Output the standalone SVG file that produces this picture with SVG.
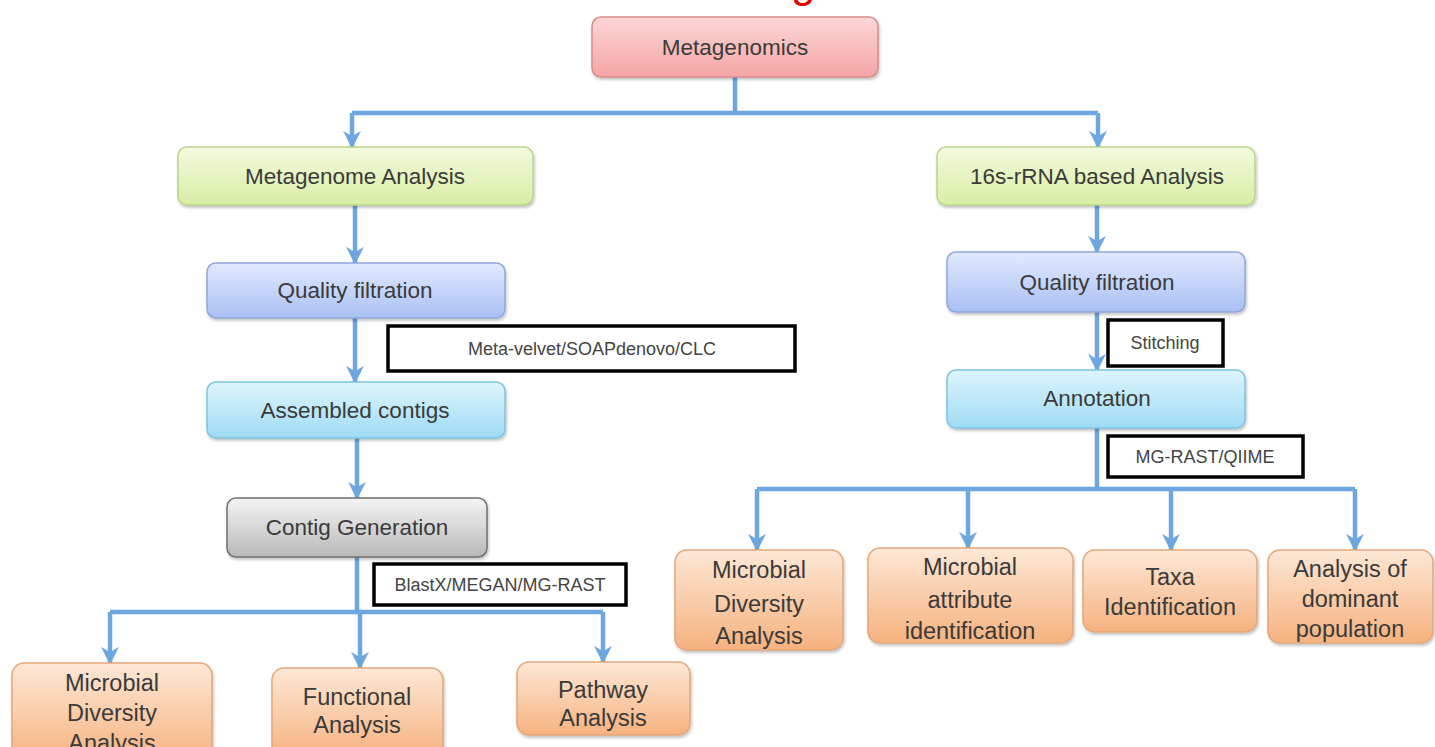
<svg xmlns="http://www.w3.org/2000/svg" width="1435" height="747" viewBox="0 0 1435 747">
<defs>
<linearGradient id="gPink" x1="0" y1="0" x2="0" y2="1"><stop offset="0" stop-color="#fcd6d6"/><stop offset="1" stop-color="#f5a5a5"/></linearGradient>
<linearGradient id="gGreen" x1="0" y1="0" x2="0" y2="1"><stop offset="0" stop-color="#f3fadf"/><stop offset="1" stop-color="#d9eea4"/></linearGradient>
<linearGradient id="gBlue" x1="0" y1="0" x2="0" y2="1"><stop offset="0" stop-color="#e2eaff"/><stop offset="1" stop-color="#a9c0f4"/></linearGradient>
<linearGradient id="gCyan" x1="0" y1="0" x2="0" y2="1"><stop offset="0" stop-color="#def5fd"/><stop offset="1" stop-color="#9edbf4"/></linearGradient>
<linearGradient id="gGray" x1="0" y1="0" x2="0" y2="1"><stop offset="0" stop-color="#f4f4f4"/><stop offset="1" stop-color="#b9b9b9"/></linearGradient>
<linearGradient id="gOrange" x1="0" y1="0" x2="0" y2="1"><stop offset="0" stop-color="#fde8d6"/><stop offset="1" stop-color="#f6b27f"/></linearGradient>
<filter id="sh" x="-10%" y="-10%" width="120%" height="130%"><feDropShadow dx="1" dy="2" stdDeviation="1.5" flood-color="#000" flood-opacity="0.25"/></filter>
<marker id="arr" viewBox="0 0 10 10" refX="9" refY="5" markerWidth="4" markerHeight="4" orient="auto" markerUnits="strokeWidth">
<path d="M0,0 L10,5 L0,10 L3,5 Z" fill="#6ea6e0"/>
</marker>
<style>
.node rect{stroke-width:1.5;filter:url(#sh)}
.pink{fill:url(#gPink);stroke:#d98b8b}
.green{fill:url(#gGreen);stroke:#b9d58a}
.blue{fill:url(#gBlue);stroke:#8ea6d8}
.cyan{fill:url(#gCyan);stroke:#7cc3e0}
.gray{fill:url(#gGray);stroke:#6f6f6f}
.orange{fill:url(#gOrange);stroke:#e3a77a}
.t{font-family:"Liberation Sans",Arial,sans-serif;fill:#3a3a3a;text-anchor:middle}
.tm{font-size:22.5px}
.tb{font-size:23.5px}
.lbl rect{fill:#fff;stroke:#000;stroke-width:3.5}
.tl{font-family:"Liberation Sans",Arial,sans-serif;font-size:18px;fill:#444;text-anchor:middle}
.c{fill:none;stroke:#6ea6e0;stroke-width:4.5}
.ca{fill:none;stroke:#6ea6e0;stroke-width:4.5;marker-end:url(#arr)}
</style>
</defs>
<rect width="1435" height="747" fill="#fff"/>
<text x="791" y="-3" font-family="Liberation Sans,Arial,sans-serif" font-size="44" fill="#e00000">g</text>

<g id="connectors">
<path class="c" d="M735,77 V113" stroke="#8fadc9" stroke-width="6"/>
<path class="c" d="M352,113 H1098"/>
<path class="ca" d="M352,113 V147"/>
<path class="ca" d="M1098,113 V147"/>
<path class="ca" d="M355,205 V263"/>
<path class="ca" d="M355,318 V382"/>
<path class="ca" d="M357,438 V498"/>
<path class="c" d="M357,557 V612"/>
<path class="c" d="M110,612 H603"/>
<path class="ca" d="M110,612 V663"/>
<path class="ca" d="M360,612 V668"/>
<path class="ca" d="M603,612 V662"/>
<path class="ca" d="M1097,205 V252"/>
<path class="ca" d="M1097,312 V370"/>
<path class="c" d="M1097,428 V489"/>
<path class="c" d="M757,489 H1355"/>
<path class="ca" d="M757,489 V550"/>
<path class="ca" d="M968,489 V548"/>
<path class="ca" d="M1171,489 V550"/>
<path class="ca" d="M1355,489 V550"/>
</g>

<g id="metagenomics" class="node"><rect class="pink" x="592" y="17" width="286" height="60" rx="9"/><text class="t tm" x="735" y="55">Metagenomics</text></g>
<g id="metagenome-analysis" class="node"><rect class="green" x="178" y="147" width="355" height="58" rx="9"/><text class="t tm" x="355" y="184" fill="#3b4a2c">Metagenome Analysis</text></g>
<g id="quality-filtration-left" class="node"><rect class="blue" x="207" y="263" width="298" height="55" rx="9"/><text class="t tm" x="355" y="298">Quality filtration</text></g>
<g id="label-metavelvet" class="lbl"><rect x="388" y="326" width="407" height="45"/><text class="tl" x="592" y="355">Meta-velvet/SOAPdenovo/CLC</text></g>
<g id="assembled-contigs" class="node"><rect class="cyan" x="207" y="382" width="298" height="56" rx="9"/><text class="t tm" x="355" y="418">Assembled contigs</text></g>
<g id="contig-generation" class="node"><rect class="gray" x="227" y="498" width="260" height="59" rx="9"/><text class="t tm" x="357" y="535">Contig Generation</text></g>
<g id="label-blastx" class="lbl"><rect x="374" y="564" width="252" height="41"/><text class="tl" x="500" y="591">BlastX/MEGAN/MG-RAST</text></g>
<g id="microbial-diversity-left" class="node"><rect class="orange" x="12" y="663" width="200" height="100" rx="12"/><text class="t tb" x="112" y="691">Microbial</text><text class="t tb" x="112" y="721">Diversity</text><text class="t tb" x="112" y="751">Analysis</text></g>
<g id="functional-analysis" class="node"><rect class="orange" x="272" y="668" width="171" height="90" rx="12"/><text class="t tb" x="357" y="705">Functional</text><text class="t tb" x="357" y="733">Analysis</text></g>
<g id="pathway-analysis" class="node"><rect class="orange" x="517" y="662" width="173" height="73" rx="12"/><text class="t tb" x="603" y="698">Pathway</text><text class="t tb" x="603" y="726">Analysis</text></g>

<g id="rrna-analysis" class="node"><rect class="green" x="937" y="147" width="318" height="58" rx="9"/><text class="t tm" x="1097" y="184" fill="#3b4a2c">16s-rRNA based Analysis</text></g>
<g id="quality-filtration-right" class="node"><rect class="blue" x="947" y="252" width="298" height="60" rx="9"/><text class="t tm" x="1097" y="290">Quality filtration</text></g>
<g id="label-stitching" class="lbl"><rect x="1108" y="320" width="115" height="46"/><text class="tl" x="1165" y="349">Stitching</text></g>
<g id="annotation" class="node"><rect class="cyan" x="947" y="370" width="298" height="58" rx="9"/><text class="t tm" x="1097" y="406">Annotation</text></g>
<g id="label-mgrast" class="lbl"><rect x="1108" y="436" width="195" height="41"/><text class="tl" x="1205" y="463">MG-RAST/QIIME</text></g>
<g id="microbial-diversity-right" class="node"><rect class="orange" x="675" y="550" width="168" height="100" rx="12"/><text class="t tb" x="759" y="578">Microbial</text><text class="t tb" x="759" y="612">Diversity</text><text class="t tb" x="759" y="644">Analysis</text></g>
<g id="microbial-attribute" class="node"><rect class="orange" x="868" y="548" width="205" height="95" rx="12"/><text class="t tb" x="970" y="575">Microbial</text><text class="t tb" x="970" y="608">attribute</text><text class="t tb" x="970" y="639">identification</text></g>
<g id="taxa-identification" class="node"><rect class="orange" x="1083" y="550" width="174" height="82" rx="12"/><text class="t tb" x="1170" y="585">Taxa</text><text class="t tb" x="1170" y="615">Identification</text></g>
<g id="dominant-population" class="node"><rect class="orange" x="1268" y="550" width="165" height="93" rx="12"/><text class="t tb" x="1350" y="577">Analysis of</text><text class="t tb" x="1350" y="607">dominant</text><text class="t tb" x="1350" y="637">population</text></g>
</svg>
